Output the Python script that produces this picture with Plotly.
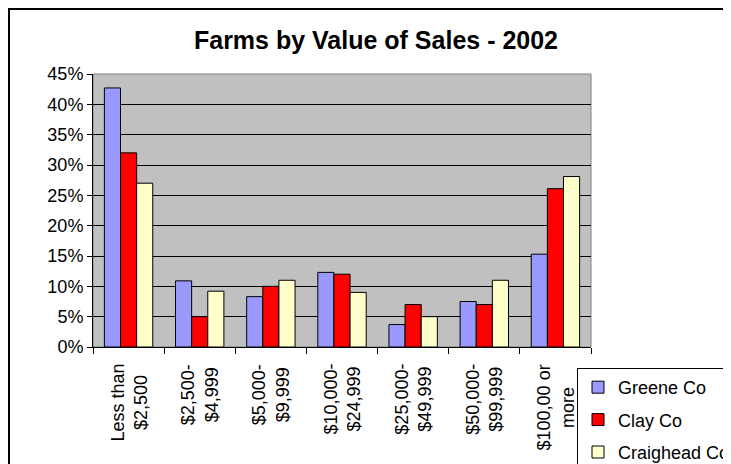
import plotly.graph_objects as go

categories = ["Less than<br>$2,500", "$2,500-<br>$4,999", "$5,000-<br>$9,999",
              "$10,000-<br>$24,999", "$25,000-<br>$49,999", "$50,000-<br>$99,999",
              "$100,00 or<br>more"]
greene = [42.7, 10.9, 8.3, 12.3, 3.7, 7.5, 15.3]
clay = [32.0, 5.0, 10.0, 12.0, 7.0, 7.0, 26.1]
craighead = [27.0, 9.2, 11.0, 9.0, 5.0, 11.0, 28.1]
series_names = ["Greene Co", "Clay Co", "Craighead Co"]
colors = ["#9999FF", "#FF0000", "#FFFFCC"]
ytick_vals = [0, 5, 10, 15, 20, 25, 30, 35, 40, 45]
ytick_text = [f"{v}%" for v in ytick_vals]

# page body has an 8px margin; figure coordinates are shifted accordingly
OFF = 8
W, H = 731, 464
L, R, T, B = 93 - OFF, 731 - (591 - OFF), 74 - OFF, 464 - (347 - OFF)
pw, ph = W - L - R, H - T - B

fig = go.Figure()
for i, (name, vals) in enumerate(zip(series_names, [greene, clay, craighead])):
    fig.add_trace(go.Bar(
        x=categories, y=vals, name=name, legendgroup=name,
        marker=dict(color=colors[i], line=dict(color="black", width=1)),
    ))

font = "Arial, Liberation Sans, sans-serif"
annotations = []
for c in categories:
    annotations.append(dict(
        x=c, xref="x", y=-15 / ph, yref="paper", text=c, showarrow=False,
        textangle=-90, xanchor="center", yanchor="top", align="center",
        font=dict(family=font, size=18, color="black"),
    ))

def px_x(p):
    return (p - L) / pw

def px_y(p):
    return (H - B - p) / ph

shapes = [
    dict(type="rect", xref="paper", yref="paper", x0=0, x1=1, y0=0, y1=1,
         line=dict(color="#808080", width=1), layer="below"),
    dict(type="line", xref="paper", yref="paper", x0=px_x(1), x1=px_x(1),
         y0=px_y(0), y1=px_y(470), line=dict(color="black", width=2)),
    dict(type="line", xref="paper", yref="paper", x0=px_x(0), x1=px_x(740),
         y0=px_y(1), y1=px_y(1), line=dict(color="black", width=2)),
]

fig.update_layout(
    width=W, height=H,
    margin=dict(l=L, r=R, t=T, b=B, pad=0, autoexpand=False),
    paper_bgcolor="white", plot_bgcolor="#C0C0C0",
    barmode="group", bargap=0.32, bargroupgap=0,
    title=dict(text="<b>Farms by Value of Sales - 2002</b>", x=(376 - OFF) / W, xref="container",
               y=1 - (40 - OFF) / H, yref="container", xanchor="center", yanchor="middle",
               font=dict(family=font, size=25, color="black")),
    font=dict(family=font, size=17, color="black"),
    showlegend=True,
    legend=dict(x=px_x(577 - OFF), y=px_y(368 - OFF), xanchor="left", yanchor="top",
                bgcolor="white", bordercolor="black", borderwidth=1,
                font=dict(family=font, size=18, color="black"),
                traceorder="grouped", tracegroupgap=6),
    annotations=annotations,
    shapes=shapes,
)
fig.update_xaxes(showticklabels=False, tickson="boundaries", ticks="outside", ticklen=6,
                 tickcolor="black", showline=True, linecolor="black", linewidth=1,
                 showgrid=False, fixedrange=True)
fig.update_yaxes(range=[0, 45], tickvals=ytick_vals, ticktext=ytick_text,
                 ticks="outside", ticklen=5, tickcolor="black", showline=True,
                 linecolor="black", linewidth=1, showgrid=True, gridcolor="black",
                 gridwidth=1, zeroline=False, tickfont=dict(family=font, size=18),
                 fixedrange=True)

fig.write_html("out.html")
